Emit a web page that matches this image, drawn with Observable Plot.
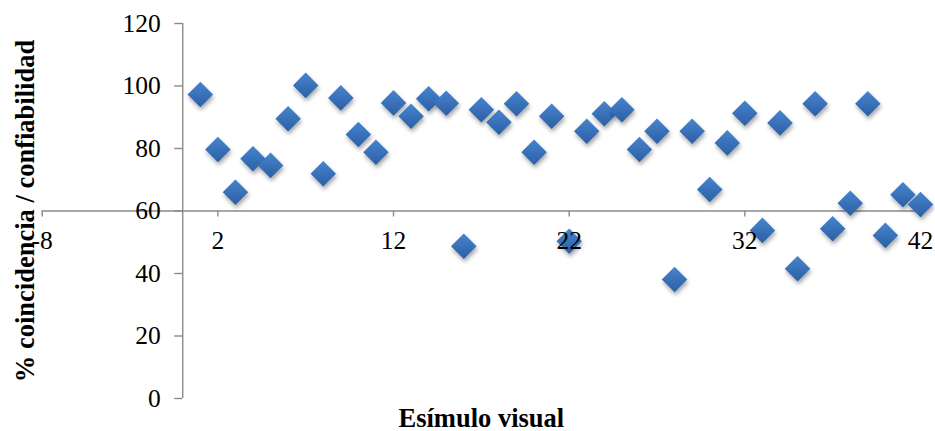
<!DOCTYPE html>
<html>
<head>
<meta charset="utf-8">
<script src="https://cdn.jsdelivr.net/npm/d3@7"></script>
<script src="https://cdn.jsdelivr.net/npm/@observablehq/plot@0.6"></script>
<style>
  html, body { margin: 0; padding: 0; background: #fff; }
  #chart svg { display: block; }
</style>
</head>
<body>
<div id="chart"></div>
<script>
// ---- data ----
const stimulus = [1, 2, 3, 4, 5, 6, 7, 8, 9, 10, 11, 12, 13, 14, 15, 16, 17, 18, 19, 20, 21,
                  22, 23, 24, 25, 26, 27, 28, 29, 30, 31, 32, 33, 34, 35, 36, 37, 38, 39, 40, 41, 42];
const coincidence = [97.3, 79.7, 66.0, 76.7, 74.6, 89.5, 100.2, 71.9, 96.2, 84.5, 78.8,
                     94.6, 90.3, 95.9, 94.5, 48.7, 92.4, 88.4, 94.3, 78.8, 90.3,
                     50.3, 85.5, 91.1, 92.4, 79.7, 85.5, 38.1, 85.5, 66.9, 81.8,
                     91.3, 53.8, 88.2, 41.5, 94.3, 54.3, 62.5, 94.3, 52.2, 65.2, 62.1];
const xTicks = [-8, 2, 12, 22, 32, 42];
const yTicks = [0, 20, 40, 60, 80, 100, 120];
const xTitle = "Esímulo visual";
const yTitle = "% coincidencia / confiabilidad";
const xCross = 60;   // the x axis crosses the y axis at this value
const yCross = 0;    // the y axis crosses the x axis at this value

const points = stimulus.map((s, i) => ({x: s, y: coincidence[i]}));

const axisColor = "#8a8a8a";
const serif = "'Liberation Serif', 'Times New Roman', 'DejaVu Serif', serif";

const plot = Plot.plot({
  width: 935,
  height: 431,
  marginLeft: 41.7,
  marginRight: 15,
  marginTop: 23,
  marginBottom: 33,
  style: {fontFamily: serif, background: "#fff"},
  x: {domain: [xTicks[0], xTicks[xTicks.length - 1]], axis: null},
  y: {domain: [yTicks[0], yTicks[yTicks.length - 1]], axis: null},
  marks: [
    // axis lines
    Plot.ruleY([xCross], {x1: xTicks[0], x2: xTicks[xTicks.length - 1], stroke: axisColor, strokeWidth: 1.4}),
    Plot.ruleX([yCross], {y1: yTicks[0], y2: yTicks[yTicks.length - 1], stroke: axisColor, strokeWidth: 1.4}),
    // tick marks
    Plot.ruleY(yTicks, {y: d => d, x1: yCross, x2: yCross, insetLeft: -8, stroke: axisColor, strokeWidth: 1.4}),
    Plot.ruleX(xTicks, {x: d => d, y1: xCross, y2: xCross, insetBottom: -6, stroke: axisColor, strokeWidth: 1.4}),
    // data
    Plot.dot(points, {x: "x", y: "y", symbol: "diamond2", r: 11.5, fill: "#3a72bd", stroke: "none"}),
    // tick labels
    Plot.text(yTicks, {x: yCross, y: d => d, text: d => String(d), dx: -22, textAnchor: "end",
                       fontSize: 25.5, fill: "#000"}),
    Plot.text(xTicks, {x: d => d, y: xCross, text: d => String(d), dy: 30,
                       fontSize: 25.5, fill: "#000"}),
    // axis titles
    Plot.text([xTitle], {frameAnchor: "bottom", dy: 28, text: d => d, fontSize: 26.5,
                         fontWeight: "bold", fill: "#000"}),
    Plot.text([yTitle], {frameAnchor: "left", textAnchor: "middle", lineAnchor: "middle",
                         dx: -17, rotate: -90, text: d => d, fontSize: 26.5,
                         fontWeight: "bold", fill: "#000"})
  ]
});

// gradient + soft shadow for the diamond markers (Excel look)
const svg = d3.select(plot);
const defs = svg.insert("defs", ":first-child");
const grad = defs.append("linearGradient").attr("id", "diamondGrad")
  .attr("x1", 0).attr("y1", 0).attr("x2", 0).attr("y2", 1);
grad.append("stop").attr("offset", "0%").attr("stop-color", "#4784cf");
grad.append("stop").attr("offset", "100%").attr("stop-color", "#2b5fa3");
const filt = defs.append("filter").attr("id", "diamondShadow")
  .attr("x", "-50%").attr("y", "-50%").attr("width", "200%").attr("height", "200%");
filt.append("feDropShadow").attr("dx", 1).attr("dy", 3).attr("stdDeviation", 2)
  .attr("flood-color", "#000").attr("flood-opacity", 0.35);
svg.selectAll('g[aria-label="dot"] path')
  .attr("fill", "url(#diamondGrad)")
  .attr("filter", "url(#diamondShadow)");

document.getElementById("chart").appendChild(plot);
</script>
</body>
</html>
